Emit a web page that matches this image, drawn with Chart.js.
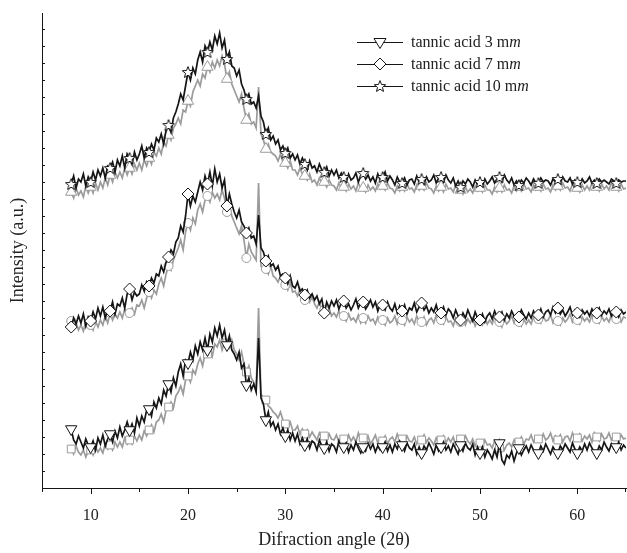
<!DOCTYPE html>
<html>
<head>
<meta charset="utf-8">
<script src="https://cdn.jsdelivr.net/npm/chart.js@4.4.1/dist/chart.umd.min.js"></script>
<style>
  html, body { margin: 0; padding: 0; background: #fff; }
  #wrap { width: 627px; height: 553px; }
</style>
</head>
<body>
<div id="wrap"><canvas id="xrd" width="627" height="553"></canvas></div>
<script>
// sampling grid for the patterns (2-theta, deg)
const angles = [];
for (let a = 8; a <= 65.0001; a += 0.25) angles.push(Math.round(a * 100) / 100);

// intensity (a.u., offset-stacked as plotted), one value per 0.25 deg, 8 .. 65
const ta3Black = [
  59,48,44,52, 46,40,49,43,  41,47,38,50, 44,53,42,49,
  54,46,57,50, 61,52,58,66,  58,64,55,70, 62,72,66,78,
  79,72,86,80, 90,84,98,92,  104,96,110,102, 116,124,112,128,
  125,136,128,142, 134,146,138,150,  138,154,146,160, 152,163,150,158,
  143,152,138,134, 128,136,120,124,  103,110,98,104, 96,150,90,84,
  68,76,62,66, 58,64,54,60,  52,58,48,55, 47,54,44,50,
  43,49,40,47, 45,38,48,42,  40,46,37,44, 42,36,47,40,
  41,45,36,43, 38,46,40,35,  41,37,45,39, 44,36,42,38,
  41,46,37,43, 36,44,39,47,  43,37,45,40, 38,44,34,41,
  35,42,38,45, 40,34,43,37,  41,46,38,42, 36,44,39,34,
  43,37,45,40, 38,44,33,41,  35,41,31,38, 34,29,38,31,
  45,28,24,33, 30,37,27,35,  40,33,38,42, 36,43,38,34,
  35,42,37,44, 39,34,41,37,  35,42,38,44, 40,36,45,39,
  35,41,37,44, 38,45,40,36,  35,42,38,46, 41,37,44,39,
  41,46,38,43, 40
];
const ta3Gray = [
  39,34,42,36, 33,38,31,37,  38,33,41,36, 40,35,44,39,
  43,38,46,41, 46,41,50,44,  48,44,52,47, 53,48,57,52,
  58,63,56,66, 68,74,66,78,  81,86,80,92, 96,102,94,108,
  112,106,118,114, 124,130,122,134,  134,140,132,144, 141,148,138,146,
  145,140,148,138, 134,128,136,124,  116,122,110,106, 98,180,94,90,
  88,82,80,76, 74,70,76,68,  64,60,66,58, 58,62,54,59,
  54,58,51,56, 52,48,55,50,  52,47,54,49, 48,53,46,51,
  49,45,53,47, 51,46,55,48,  50,46,52,44, 48,53,45,50,
  47,52,44,49, 51,46,54,48,  49,45,52,47, 46,51,44,49,
  48,53,46,50, 47,43,50,45,  48,52,45,50, 46,51,43,48,
  49,45,52,47, 44,49,42,46,  45,41,48,43, 44,40,47,42,
  40,45,38,43, 45,41,48,44,  46,51,44,49, 48,53,46,51,
  49,46,54,48, 50,55,47,52,  48,53,46,51, 52,47,55,49,
  50,54,47,52, 49,53,46,55,  51,47,54,49, 50,55,48,52,
  51,47,53,49, 50
];
const ta7Black = [
  161,170,164,172, 165,174,162,171,  167,176,169,180, 172,181,170,178,
  177,186,174,184, 182,190,180,194,  199,188,196,192, 194,203,197,206,
  202,210,205,214, 212,222,216,226,  231,238,234,246, 250,262,256,272,
  294,282,292,286, 296,306,298,312,  304,316,302,319, 306,314,300,308,
  282,294,284,276, 270,278,266,262,  255,260,250,252, 244,273,240,236,
  227,232,222,224, 218,222,212,214,  210,204,212,202, 200,206,197,199,
  193,198,190,194, 188,192,184,189,  175,186,180,187, 182,188,179,185,
  187,180,184,178, 183,189,180,185,  186,179,183,188, 181,186,177,184,
  183,178,186,180, 177,184,175,182,  177,183,174,180, 178,185,176,181,
  185,178,182,175, 180,176,183,174,  175,181,173,179, 176,170,178,172,
  168,175,170,178, 172,167,176,170,  168,174,166,172, 175,169,177,171,
  171,176,168,174, 170,177,172,168,  171,178,173,169, 175,170,177,172,
  173,179,171,176, 178,173,181,175,  180,174,178,172, 176,181,173,178,
  175,171,178,174, 177,172,179,175,  175,180,173,177, 174,179,172,176,
  176,171,178,174, 176
];
const ta7Gray = [
  167,160,165,158, 163,157,166,160,  163,158,167,161, 168,163,172,165,
  175,168,174,170, 176,170,179,172,  175,180,174,183, 182,188,180,190,
  196,190,198,194, 204,210,202,214,  222,218,228,234, 240,248,238,256,
  265,258,270,264, 278,284,276,288,  292,286,296,290, 294,288,298,290,
  276,284,272,266, 260,254,262,248,  230,244,236,232, 228,305,222,220,
  219,214,222,212, 210,206,212,204,  203,198,205,196, 197,192,199,190,
  188,193,186,191, 184,180,186,178,  178,174,180,172, 175,171,177,169,
  172,167,174,168, 170,166,173,165,  170,165,172,167, 169,164,171,166,
  168,163,170,165, 167,172,164,170,  168,163,171,166, 169,164,172,167,
  166,171,163,168, 170,165,173,167,  168,164,171,166, 167,162,170,165,
  166,171,163,169, 165,170,162,168,  167,163,170,164, 168,164,171,166,
  166,161,169,164, 167,172,165,170,  166,162,169,164, 168,164,171,166,
  169,165,172,167, 168,173,165,170,  167,163,170,166, 169,174,166,171,
  168,164,171,167, 170,166,173,168,  169,165,172,167, 170,166,173,168,
  169,173,166,171, 170
];
const ta10Black = [
  304,312,300,309, 306,314,302,311,  306,316,308,318, 312,320,310,322,
  320,326,316,328, 322,332,320,334,  330,324,336,328, 334,342,330,340,
  336,344,338,350, 346,354,344,358,  363,356,370,376, 384,394,388,402,
  416,408,420,414, 428,436,426,442,  436,446,438,452, 444,455,440,448,
  429,436,422,420, 412,418,404,398,  389,394,384,386, 380,392,372,366,
  354,360,348,352, 344,348,338,342,  335,340,330,334, 328,333,324,330,
  324,318,327,320, 322,316,324,318,  316,321,312,318, 313,318,310,315,
  311,306,314,308, 310,315,306,312,  315,309,313,307, 311,305,314,308,
  311,316,307,312, 308,303,311,306,  305,310,303,308, 309,304,312,306,
  309,304,311,306, 308,313,305,310,  311,306,313,308, 305,310,302,307,
  301,307,304,309, 306,301,308,303,  306,302,309,304, 307,311,305,309,
  311,306,313,308, 305,310,303,307,  303,308,305,310, 307,303,309,305,
  305,310,306,308, 307,303,309,306,  309,305,311,307, 306,310,304,308,
  306,303,309,305, 307,311,305,308,  305,309,306,308, 306,304,309,307,
  305,308,306,307, 307
];
const ta10Gray = [
  296,290,300,293, 297,291,302,295,  301,295,305,298, 306,300,310,303,
  313,306,316,310, 316,310,320,313,  320,314,324,318, 325,318,328,322,
  330,324,336,332, 340,334,346,342,  353,348,360,364, 370,364,378,376,
  387,382,396,402, 408,402,414,410,  421,416,426,420, 428,422,432,424,
  409,416,404,398, 392,386,394,380,  368,374,364,366, 360,401,354,348,
  339,344,336,334, 332,327,334,326,  325,320,327,318, 318,313,320,314,
  312,308,314,306, 308,303,310,305,  306,301,308,303, 302,298,305,300,
  301,297,304,299, 302,297,305,300,  300,296,303,298, 301,297,304,299,
  302,298,305,300, 299,295,302,297,  301,297,304,299, 300,296,303,298,
  302,298,305,300, 299,295,302,297,  301,296,304,299, 300,296,303,298,
  298,294,301,296, 299,295,302,297,  300,296,303,298, 298,294,301,296,
  300,296,303,298, 299,295,302,297,  301,297,304,299, 300,296,303,298,
  301,297,304,299, 300,296,303,298,  302,298,305,300, 301,297,304,299,
  300,296,303,298, 302,298,305,300,  301,297,304,299, 302,298,305,300,
  301,297,304,299, 300
];

const seriesLabels = ['tannic acid 3 m', 'tannic acid 7 m', 'tannic acid 10 m'];
const xMajorTicks = [10, 20, 30, 40, 50, 60];
const xMinorTicks = [5, 15, 25, 35, 45, 55, 65];

const BLACK = '#151515';
const GRAY = '#9b9b9b';
const SERIF = '"Liberation Serif", "Times New Roman", serif';

const toPoints = vals => vals.map((v, i) => ({ x: angles[i], y: v }));
// open symbols only every 2 deg
const every2 = r => ctx => (ctx.raw && ctx.raw.x % 2 === 0 ? r : 0);

function starCanvas() {
  const c = document.createElement('canvas');
  c.width = 14; c.height = 14;
  const g = c.getContext('2d');
  g.beginPath();
  for (let i = 0; i < 10; i++) {
    const r = i % 2 === 0 ? 6 : 2.6;
    const a = -Math.PI / 2 + i * Math.PI / 5;
    g.lineTo(7 + r * Math.cos(a), 7.6 + r * Math.sin(a));
  }
  g.closePath();
  g.fillStyle = '#fff';
  g.fill();
  g.strokeStyle = BLACK;
  g.lineWidth = 1;
  g.stroke();
  return c;
}
const star = starCanvas();

function series(label, vals, color, style, r, order, rot) {
  return {
    label: label,
    data: toPoints(vals),
    borderColor: color,
    borderWidth: 1.7,
    tension: 0,
    pointStyle: style,
    pointRotation: rot || 0,
    pointRadius: every2(r),
    pointHoverRadius: 0,
    pointBorderColor: color,
    pointBackgroundColor: '#fff',
    pointBorderWidth: 1,
    order: order
  };
}

const axisTicks = {
  id: 'axisTicks',
  afterDraw(chart) {
    const { ctx, scales: { x, y }, chartArea } = chart;
    ctx.save();
    ctx.strokeStyle = BLACK;
    ctx.lineWidth = 1;
    ctx.beginPath();
    xMajorTicks.forEach(v => {
      const px = Math.round(x.getPixelForValue(v)) + 0.5;
      ctx.moveTo(px, chartArea.bottom); ctx.lineTo(px, chartArea.bottom + 6);
    });
    xMinorTicks.forEach(v => {
      const px = Math.min(Math.round(x.getPixelForValue(v)), 625) + 0.5;
      ctx.moveTo(px, chartArea.bottom); ctx.lineTo(px, chartArea.bottom + 4);
    });
    for (let v = 17; v < 475; v += 17) {
      const py = Math.round(y.getPixelForValue(v)) + 0.5;
      ctx.moveTo(chartArea.left, py); ctx.lineTo(chartArea.left + 3, py);
    }
    ctx.stroke();
    ctx.restore();
  }
};

const legendBox = {
  id: 'legendBox',
  afterDraw(chart) {
    const ctx = chart.ctx;
    const rows = [42, 64, 86];
    ctx.save();
    rows.forEach((yy, i) => {
      ctx.strokeStyle = BLACK;
      ctx.lineWidth = 1.2;
      ctx.beginPath();
      ctx.moveTo(357, yy + 0.5); ctx.lineTo(403, yy + 0.5);
      ctx.stroke();
      const cx = 380;
      ctx.lineWidth = 1;
      ctx.fillStyle = '#fff';
      if (i === 0) {
        ctx.beginPath();
        ctx.moveTo(cx - 6, yy - 3.5); ctx.lineTo(cx + 6, yy - 3.5); ctx.lineTo(cx, yy + 6.5);
        ctx.closePath(); ctx.fill(); ctx.stroke();
      } else if (i === 1) {
        ctx.beginPath();
        ctx.moveTo(cx, yy - 6); ctx.lineTo(cx + 6, yy); ctx.lineTo(cx, yy + 6); ctx.lineTo(cx - 6, yy);
        ctx.closePath(); ctx.fill(); ctx.stroke();
      } else {
        ctx.drawImage(star, cx - 7, yy - 7);
      }
      ctx.fillStyle = '#222';
      ctx.textBaseline = 'middle';
      ctx.font = '16px ' + SERIF;
      ctx.fillText(seriesLabels[i], 411, yy + 1);
      const w = ctx.measureText(seriesLabels[i]).width;
      ctx.font = 'italic 16px ' + SERIF;
      ctx.fillText('m', 411 + w, yy + 1);
    });
    ctx.restore();
  }
};

new Chart(document.getElementById('xrd'), {
  type: 'line',
  data: {
    datasets: [
      series('tannic acid 10 mm', ta10Black, BLACK, star, 6, 0),
      series('tannic acid 7 mm', ta7Black, BLACK, 'rectRot', 6, 0),
      series('tannic acid 3 mm', ta3Black, BLACK, 'triangle', 6.5, 0, 180),
      series('10 mm ref', ta10Gray, GRAY, 'triangle', 6.5, 1),
      series('7 mm ref', ta7Gray, GRAY, 'circle', 4.5, 1),
      series('3 mm ref', ta3Gray, GRAY, 'rect', 5.5, 1)
    ]
  },
  options: {
    responsive: false,
    animation: false,
    devicePixelRatio: 1,
    events: [],
    layout: { autoPadding: false, padding: { top: 13, right: 1, left: 0, bottom: 0 } },
    plugins: { legend: { display: false }, tooltip: { enabled: false } },
    scales: {
      x: {
        type: 'linear',
        min: 5,
        max: 65,
        afterBuildTicks: s => { s.ticks = xMajorTicks.map(v => ({ value: v })); },
        afterFit: s => { s.height = 65; },
        grid: { display: false, drawTicks: false },
        border: { display: true, color: BLACK, width: 1 },
        ticks: {
          padding: 18,
          color: '#222',
          autoSkip: false,
          maxRotation: 0,
          font: { family: SERIF, size: 16 }
        },
        title: {
          display: true,
          text: 'Difraction angle (2θ)',
          color: '#222',
          padding: { top: 0, bottom: 2 },
          font: { family: SERIF, size: 18 }
        }
      },
      y: {
        min: 0,
        max: 475,
        afterFit: s => { s.width = 42; },
        grid: { display: false, drawTicks: false },
        border: { display: true, color: BLACK, width: 1 },
        ticks: { display: false },
        title: {
          display: true,
          text: 'Intensity (a.u.)',
          color: '#222',
          padding: { top: 7, bottom: 0 },
          font: { family: SERIF, size: 18 }
        }
      }
    }
  },
  plugins: [axisTicks, legendBox]
});
</script>
</body>
</html>
